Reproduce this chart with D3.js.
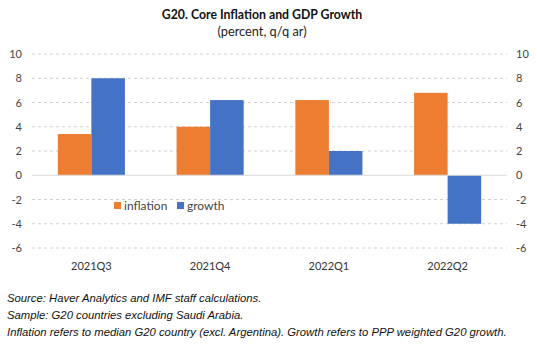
<!DOCTYPE html>
<html><head><meta charset="utf-8">
<script src="https://cdn.jsdelivr.net/npm/d3@7"></script>
<style>body{margin:0;background:#fff}svg{display:block}</style>
</head><body>
<script>
const categories = ["2021Q3","2021Q4","2022Q1","2022Q2"];
const inflation = [3.4, 4.0, 6.2, 6.8];
const growth = [8.0, 6.2, 2.0, -4.0];
const yTicks = [10,8,6,4,2,0,-2,-4,-6];
const seriesNames = ["inflation","growth"];
const colors = ["#ED7D31","#4472C4"];

const W=537,H=355;
const svg=d3.select("body").append("svg").attr("width",W).attr("height",H);
const font="Lato, 'Open Sans', sans-serif";
const x0=32,x1=507;
const y=d3.scaleLinear().domain([-6,10]).range([248,54]);
const x=d3.scaleBand().domain(categories).range([x0,x1]).paddingInner(0.435).paddingOuter(0.2175);
const xs=d3.scaleBand().domain(seriesNames).range([0,x.bandwidth()]);

svg.append("text").attr("x",262).attr("y",19).attr("text-anchor","middle").attr("font-family",font).attr("font-weight","bold").attr("font-size",12.3).attr("fill","#111").text("G20. Core Inflation and GDP Growth");
svg.append("text").attr("x",262).attr("y",36).attr("text-anchor","middle").attr("font-family",font).attr("font-size",12.8).attr("fill","#222").text("(percent, q/q ar)");

// gridlines
svg.append("g").selectAll("line").data(yTicks.filter(d=>d!==0)).join("line")
 .attr("x1",x0).attr("x2",x1).attr("y1",d=>y(d)).attr("y2",d=>y(d))
 .attr("stroke","#d0d0d0").attr("stroke-width",1).attr("stroke-dasharray","3,3");

const fmt=d=>String(d);
const left=d3.axisLeft(y).tickValues(yTicks).tickSize(0).tickPadding(0).tickFormat(fmt);
const gl=svg.append("g").attr("transform","translate(22,0)").call(left);
const right=d3.axisRight(y).tickValues(yTicks).tickSize(0).tickPadding(0).tickFormat(fmt);
const gr=svg.append("g").attr("transform","translate(516,0)").call(right);
[gl,gr].forEach(g=>{g.select(".domain").remove();g.selectAll("text").attr("font-family",font).attr("font-size",11).attr("fill","#444");});

// bars
const data=categories.map((c,i)=>({c,vals:[inflation[i],growth[i]]}));
const grp=svg.append("g").selectAll("g").data(data).join("g").attr("transform",d=>`translate(${x(d.c)},0)`);
grp.selectAll("rect").data(d=>d.vals.map((v,j)=>({v,s:seriesNames[j],j}))).join("rect")
 .attr("x",d=>xs(d.s)).attr("width",xs.bandwidth())
 .attr("y",d=>y(Math.max(0,d.v))).attr("height",d=>Math.abs(y(d.v)-y(0)))
 .attr("fill",d=>colors[d.j]);

// zero line
svg.append("line").attr("x1",x0).attr("x2",x1).attr("y1",y(0)).attr("y2",y(0)).attr("stroke","#d9d9d9").attr("stroke-width",1.2);

// x labels
svg.append("g").selectAll("text").data(categories).join("text")
 .attr("x",d=>x(d)+x.bandwidth()/2).attr("y",270).attr("text-anchor","middle")
 .attr("font-family",font).attr("font-size",11).attr("fill","#333").text(d=>d);

// legend
const lx=[114,177];
const lg=svg.append("g").selectAll("g").data(seriesNames).join("g").attr("transform",(d,i)=>`translate(${lx[i]},202)`);
lg.append("rect").attr("width",7).attr("height",7).attr("fill",(d,i)=>colors[i]);
lg.append("text").attr("x",10).attr("y",7.5).attr("font-family",font).attr("font-size",12).attr("fill","#444").text(d=>d);

// footnotes
const notes=["Source: Haver Analytics and IMF staff calculations.","Sample: G20 countries excluding Saudi Arabia.","Inflation refers to median G20 country (excl. Argentina). Growth refers to PPP weighted G20 growth."];
svg.append("g").selectAll("text").data(notes).join("text")
 .attr("x",7).attr("y",(d,i)=>302+i*17).attr("font-family","'Liberation Sans', Arial, sans-serif").attr("font-style","italic").attr("font-size",11.3).attr("fill","#111").text(d=>d);
</script>
</body></html>
